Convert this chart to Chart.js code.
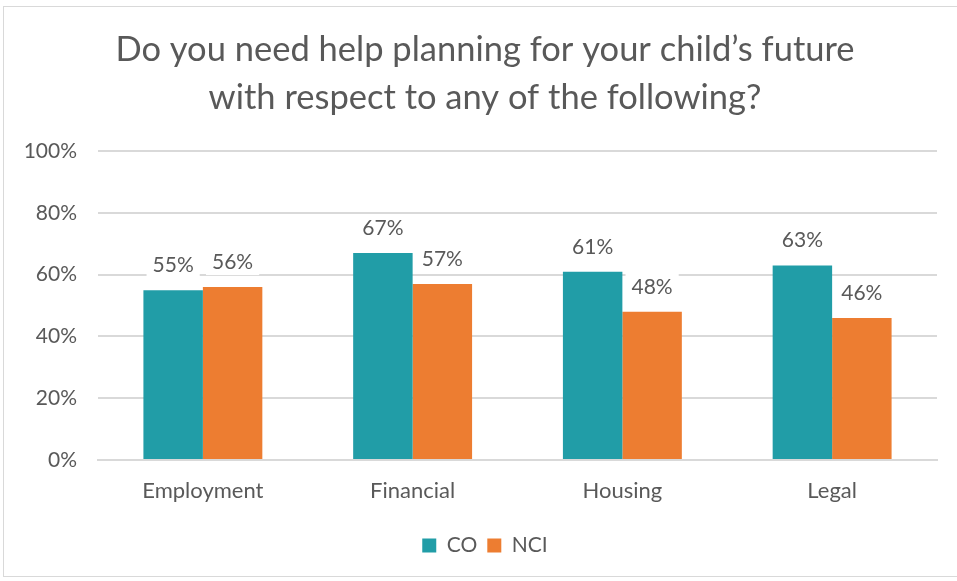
<!DOCTYPE html>
<html><head><meta charset="utf-8">
<script src="https://cdn.jsdelivr.net/npm/chart.js@4"></script>
<style>
html,body{margin:0;padding:0;background:#fff;overflow:hidden;}
#wrap{position:relative;width:957px;height:581px;}
#frame{position:absolute;left:3px;top:6px;width:970px;height:571px;border:1px solid #d9d9d9;box-sizing:border-box;}
canvas{position:absolute;left:0;top:0;}
</style></head>
<body>
<div id="wrap"><div id="frame"></div><canvas id="c" width="957" height="581"></canvas></div>
<script>
const titleLines = ["Do you need help planning for your child\u2019s future", "with respect to any of the following?"];
const categories = ["Employment", "Financial", "Housing", "Legal"];
const seriesNames = ["CO", "NCI"];
const coValues = [55, 67, 61, 63];
const nciValues = [56, 57, 48, 46];
const yTicks = [0, 20, 40, 60, 80, 100];

const FONT = "Lato";
const TXT = "#595959";

const labelPlugin = {
  id: "barLabels",
  afterDatasetsDraw(chart) {
    const ctx = chart.ctx;
    ctx.save();
    ctx.font = "21px " + FONT;
    ctx.textAlign = "center";
    ctx.textBaseline = "alphabetic";
    chart.data.datasets.forEach((ds, i) => {
      const meta = chart.getDatasetMeta(i);
      meta.data.forEach((bar, j) => {
        const txt = ds.data[j] + "%";
        const w = ctx.measureText(txt).width;
        const base = bar.y - 18;
        ctx.fillStyle = "#fff";
        ctx.fillRect(bar.x - w / 2 - 6, base - 20, w + 12, 26);
        ctx.fillStyle = TXT;
        ctx.fillText(txt, bar.x, base);
      });
    });
    ctx.restore();
  }
};

new Chart(document.getElementById("c"), {
  type: "bar",
  data: {
    labels: categories,
    datasets: [
      { label: seriesNames[0], data: coValues, backgroundColor: "#219DA7", borderWidth: 0 },
      { label: seriesNames[1], data: nciValues, backgroundColor: "#ED7D31", borderWidth: 0 }
    ]
  },
  options: {
    responsive: false,
    animation: false,
    devicePixelRatio: 1,
    categoryPercentage: 0.567,
    barPercentage: 1.0,
    layout: { padding: { left: 13, right: 0, top: 0, bottom: 15 } },
    plugins: {
      title: {
        display: true, text: titleLines, color: TXT,
        font: { family: FONT, size: 34.5, weight: "normal", lineHeight: 1.38 },
        padding: { top: 26, bottom: 30 }
      },
      legend: {
        position: "bottom",
        labels: { color: TXT, font: { family: FONT, size: 21 }, boxWidth: 14, boxHeight: 14, padding: 10 }
      },
      tooltip: { enabled: false }
    },
    scales: {
      y: {
        min: 0, max: 100,
        afterFit(s) { s.width = 85; },
        afterBuildTicks(s) { s.ticks = yTicks.map(v => ({ value: v })); },
        ticks: { color: TXT, font: { family: FONT, size: 21 }, padding: 21, callback: v => v + "%" },
        grid: { color: "#d9d9d9", lineWidth: 2, drawTicks: false },
        border: { display: false }
      },
      spacer: {
        type: "linear", position: "right", display: true,
        afterFit(s) { s.width = 20; },
        ticks: { display: false },
        grid: { display: false, drawTicks: false },
        border: { display: false }
      },
      x: {
        afterFit(s) { s.height = 65; },
        ticks: { color: TXT, font: { family: FONT, size: 22 }, padding: 18 },
        grid: { display: false, drawTicks: false },
        border: { color: "#d9d9d9", width: 2 }
      }
    }
  },
  plugins: [labelPlugin]
});
</script>
</body></html>
